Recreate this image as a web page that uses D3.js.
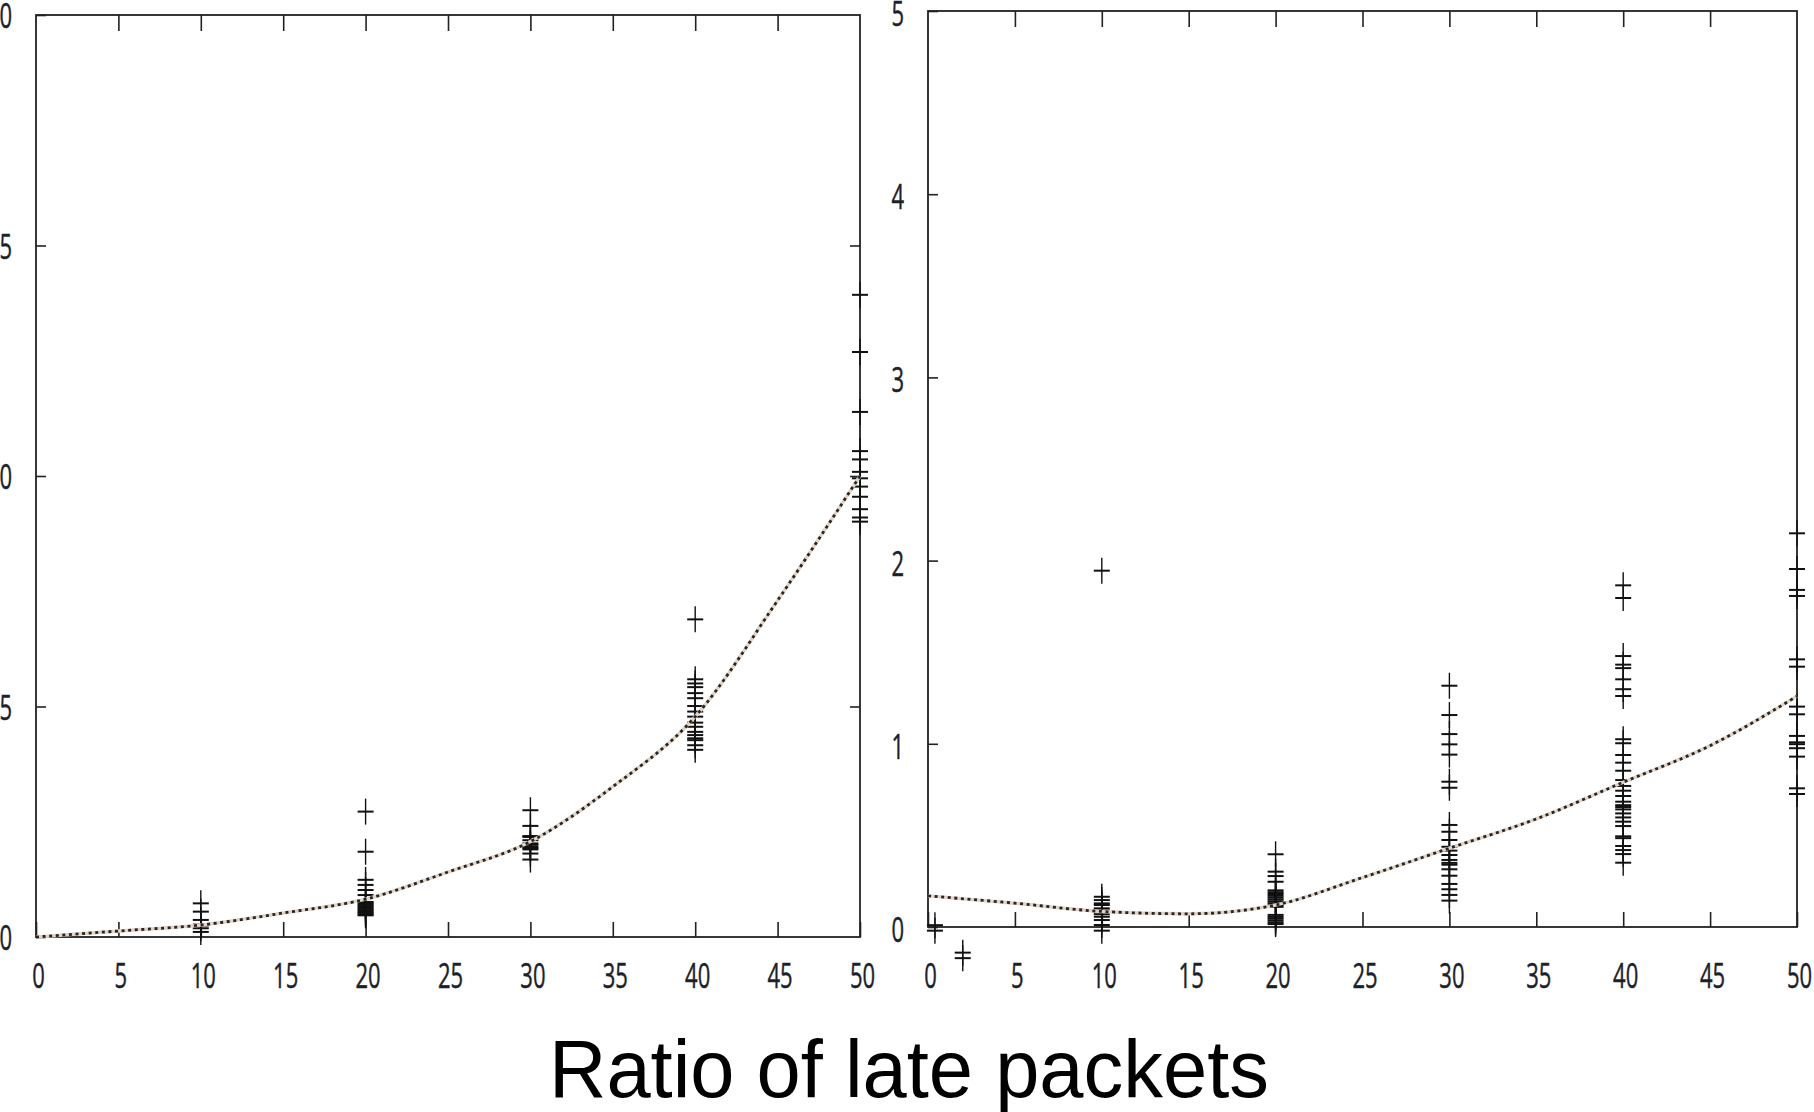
<!DOCTYPE html>
<html lang="en">
<head>
	<meta charset="UTF-8">
	<script type="text/javascript" src="https://cdn.jsdelivr.net/npm/d3@7"></script>
	<title>ratio of late packets</title>
	<style>
		body { margin: 0; background: #fff; }
		.tick text { font-family: "Open Sans", sans-serif; font-size: 22px; fill: #1d1f2b; stroke: #1d1f2b; stroke-width: 0.3px; }
	</style>
</head>
<body>

<svg id="chart" width="1814" height="1112"></svg>

<script type="text/javascript">
	// tick values
	var xTicks = [0, 5, 10, 15, 20, 25, 30, 35, 40, 45, 50];
	var leftYTicks = [0, 5, 10, 15, 20];
	var rightYTicks = [0, 1, 2, 3, 4, 5];

	// fitted curve, every 5 units
	var curveX = [0, 5, 10, 15, 20, 25, 30, 35, 40, 45, 50];
	var leftCurve = [0, 0.13, 0.26, 0.52, 0.82, 1.41, 2.07, 3.26, 4.78, 7.3, 10.0];
	var rightCurve = [0.17, 0.13, 0.085, 0.072, 0.12, 0.27, 0.43, 0.59, 0.79, 0.99, 1.26];

	// left panel samples, one list per x value
	var leftAt10 = [0.73, 0.55, 0.37, 0.27, 0.25, 0.19, 0.11];
	var leftAt20 = [2.72, 1.85, 1.24, 1.13, 1.02, 0.91, 0.76, 0.73, 0.70, 0.67, 0.64, 0.61, 0.58, 0.55, 0.52, 0.49, 0.47];
	var leftAt30 = [2.75, 2.41, 2.19, 2.17, 2.10, 2.03, 2.0, 1.96, 1.93, 1.90, 1.81, 1.68];
	var leftAt40 = [6.89, 5.59, 5.50, 5.42, 5.29, 5.18, 5.01, 4.89, 4.78, 4.65, 4.56, 4.45, 4.38, 4.31, 4.27, 4.16, 4.06];
	var leftAt50 = [13.93, 12.69, 11.39, 10.54, 10.36, 10.09, 9.95, 9.77, 9.55, 9.28, 9.10, 9.01];

	// right panel samples
	var rightAt0 = [0.01, -0.02];
	var rightAt2 = [-0.14, -0.17];
	var rightAt10 = [1.945, 0.165, 0.147, 0.129, 0.12, 0.102, 0.09, 0.084, 0.07, 0.056, 0.038, 0.011, -0.02];
	var rightAt20 = [0.397, 0.302, 0.278, 0.247, 0.20, 0.19, 0.18, 0.17, 0.16, 0.15, 0.14, 0.13, 0.12, 0.11, 0.066, 0.055, 0.045, 0.035, 0.025, 0.016];
	var rightAt30 = [1.317, 1.157, 1.053, 0.997, 0.941, 0.793, 0.760, 0.557, 0.520, 0.475, 0.438, 0.417, 0.393, 0.366, 0.350, 0.340, 0.315, 0.280, 0.235, 0.206, 0.175, 0.144];
	var rightAt40 = [1.865, 1.796, 1.479, 1.432, 1.413, 1.352, 1.298, 1.261, 1.025, 1.003, 0.939, 0.897, 0.853, 0.802, 0.770, 0.744, 0.715, 0.684, 0.665, 0.655, 0.642, 0.620, 0.598, 0.575, 0.551, 0.495, 0.485, 0.442, 0.420, 0.398, 0.351];
	var rightAt50 = [2.149, 1.954, 1.840, 1.807, 1.461, 1.421, 1.203, 1.161, 1.043, 1.008, 0.998, 0.976, 0.930, 0.757, 0.726];

	var xTitle = "Ratio of late packets";

	function flatten(groups) {
		var pts = [];
		groups.forEach(function(g) {
			g[1].forEach(function(v) { pts.push({x: g[0], y: v}); });
		});
		return pts;
	}

	var panels = [
		{
			left: 36, right: 860, top: 15, bottom: 937, yMax: 20, yTicks: leftYTicks,
			curve: leftCurve, yLabelShift: 0, rightTicks: true,
			points: flatten([[10, leftAt10], [20, leftAt20], [30, leftAt30], [40, leftAt40], [50, leftAt50]])
		},
		{
			left: 928, right: 1797, top: 11, bottom: 927, yMax: 5, yTicks: rightYTicks,
			curve: rightCurve, yLabelShift: 2, rightTicks: false,
			points: flatten([[0.4, rightAt0], [2, rightAt2], [10, rightAt10], [20, rightAt20], [30, rightAt30], [40, rightAt40], [50, rightAt50]])
		}
	];

	var svg = d3.select("#chart");

	panels.forEach(function(p) {
		var x = d3.scaleLinear().domain([0, 50]).range([p.left, p.right]);
		var y = d3.scaleLinear().domain([0, p.yMax]).range([p.bottom, p.top]);
		var g = svg.append("g");

		// inward ticks on all sides
		var bottomAxis = g.append("g")
			.attr("transform", "translate(0," + p.bottom + ")")
			.call(d3.axisBottom(x).tickValues(xTicks).tickSize(-15).tickSizeOuter(0).tickFormat(d3.format("d")));
		bottomAxis.selectAll("text")
			.attr("y", 0).attr("dy", 0)
			.attr("transform", "translate(2," + (988 - p.bottom) + ") scale(1,1.6)");

		g.append("g")
			.attr("transform", "translate(0," + p.top + ")")
			.call(d3.axisTop(x).tickValues(xTicks.slice(1, -1)).tickSize(-16).tickSizeOuter(0).tickFormat(""));

		var leftAxis = g.append("g")
			.attr("transform", "translate(" + p.left + ",0)")
			.call(d3.axisLeft(y).tickValues(p.yTicks).tickSize(-10).tickSizeOuter(0).tickFormat(d3.format("d")));
		leftAxis.selectAll("text")
			.attr("x", 0).attr("dy", 0)
			.attr("transform", "translate(-24," + (12.5 + p.yLabelShift) + ") scale(1,1.6)");

		if (p.rightTicks) {
			g.append("g")
				.attr("transform", "translate(" + p.right + ",0)")
				.call(d3.axisRight(y).tickValues(p.yTicks.slice(1, -1)).tickSize(-10).tickSizeOuter(0).tickFormat(""));
		}

		g.selectAll(".domain").remove();
		g.selectAll(".tick line").attr("stroke", "#222").attr("stroke-width", 1.6);

		// frame
		g.append("rect")
			.attr("x", p.left).attr("y", p.top)
			.attr("width", p.right - p.left).attr("height", p.bottom - p.top)
			.attr("fill", "none").attr("stroke", "#222").attr("stroke-width", 1.8);

		// + markers
		var marks = g.selectAll("g.pt")
			.data(p.points)
			.enter().append("g")
			.attr("class", "pt")
			.attr("transform", function(d) { return "translate(" + x(d.x) + "," + y(d.y) + ")"; });
		marks.append("line")
			.attr("x1", -8).attr("x2", 8)
			.attr("stroke", "#111").attr("stroke-width", 2);
		marks.append("line")
			.attr("y1", -13).attr("y2", 13)
			.attr("stroke", "#111").attr("stroke-width", 1.4);

		// dotted fit line
		var line = d3.line()
			.x(function(d, i) { return x(curveX[i]); })
			.y(function(d) { return y(d); })
			.curve(d3.curveMonotoneX);

		g.append("path")
			.attr("d", line(p.curve))
			.attr("fill", "none")
			.attr("stroke", "#e4d4c6")
			.attr("stroke-width", 3.4);
		g.append("path")
			.attr("d", line(p.curve))
			.attr("fill", "none")
			.attr("stroke", "#262626")
			.attr("stroke-width", 2.8)
			.attr("stroke-dasharray", "3,3.6");
	});

	svg.append("text")
		.attr("x", 909)
		.attr("y", 1097)
		.attr("text-anchor", "middle")
		.attr("textLength", 720)
		.attr("lengthAdjust", "spacingAndGlyphs")
		.style("font-family", "'Liberation Sans', Arial, sans-serif")
		.style("font-size", "82px")
		.style("fill", "#000")
		.text(xTitle);
</script>

</body>
</html>
